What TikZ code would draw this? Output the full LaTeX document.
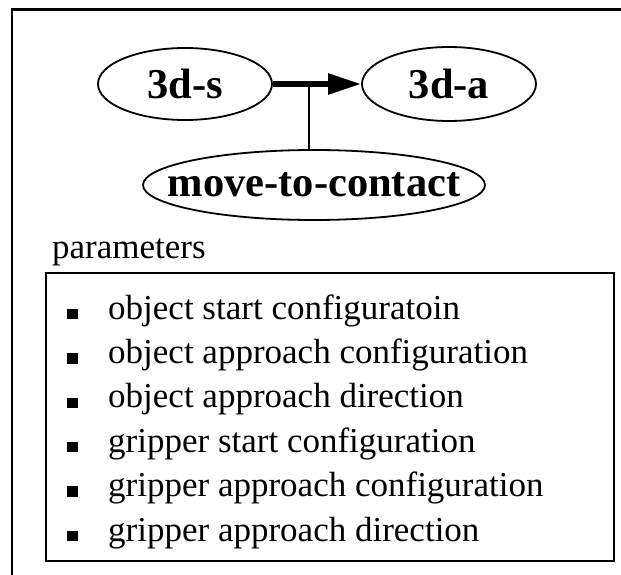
\documentclass[tikz,border=0pt]{standalone}
\usepackage{fontspec}
\setmainfont{Liberation Serif}
\usetikzlibrary{shapes.geometric,arrows.meta}

% label set in a zero-width box so the ellipse keeps its given size
\newcommand{\tightlabel}[1]{\makebox[0pt]{#1}}

\begin{document}
\begin{tikzpicture}[x=1pt,y=-1pt,
  state/.style={ellipse,draw,line width=1.8pt,inner sep=0pt,
    font=\bfseries\fontsize{42.5}{48}\selectfont},
  item/.style={anchor=base west,inner sep=0pt,font=\fontsize{35}{40}\selectfont},
  bulletmark/.style={fill,minimum size=10.5pt,inner sep=0pt},
  frameline/.style={line width=2pt}]
\useasboundingbox (0,0) rectangle (621,575);

% open frame: top and left edges only
\draw[line width=3pt] (11,9.5) -- (621,9.5);
\draw[frameline] (12,8) -- (12,575);

% the transition and the action that labels it
\node[state,minimum width=174pt,minimum height=72pt] (s) at (185,84) {\tightlabel{3d-s}};
\node[state,minimum width=174pt,minimum height=74pt] (a) at (449,84) {\tightlabel{3d-a}};
\node[state,minimum width=342pt,minimum height=70pt] (m) at (314,185) {\tightlabel{move-to-contact}};

\draw[line width=5.5pt,-{Triangle[length=33pt,width=20pt]}] (s.east) -- (a.west);
\coordinate (j) at (309,84);
\draw[line width=1.8pt] (j) -- (j |- m.north);

% parameter list
\node[item] (p) at (52,258) {parameters};
\node[draw,line width=2pt,minimum width=568pt,minimum height=288pt,inner sep=0pt,
      anchor=north west] (box) at (45,272) {};

\foreach \t [count=\i] in {object start configuratoin,
                           object approach configuration,
                           object approach direction,
                           gripper start configuration,
                           gripper approach configuration,
                           gripper approach direction}{
  \node[bulletmark] (b\i) at (72.5,{314+44.4*(\i-1)}) {};
  \node[item] (t\i) at (108,{319+44.4*(\i-1)}) {\t};
}
\end{tikzpicture}
\end{document}
